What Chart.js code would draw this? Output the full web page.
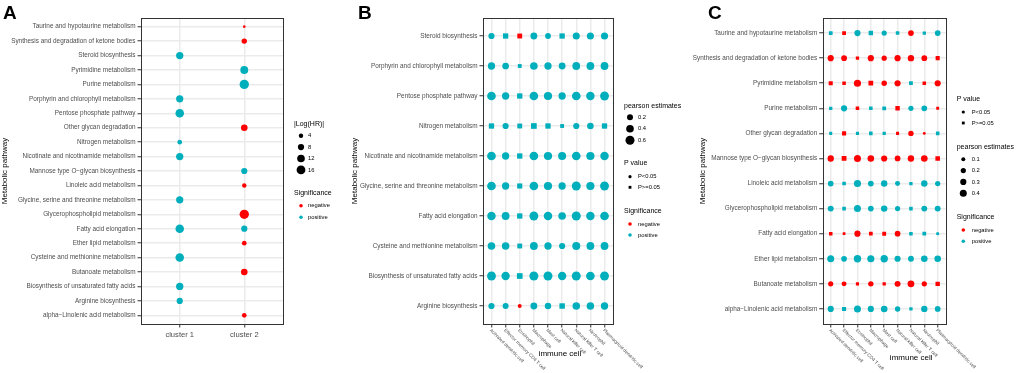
<!doctype html>
<html lang="en">
<head>
<meta charset="utf-8">
<title>Metabolic pathways, clusters and immune cells</title>
<script src="https://cdn.jsdelivr.net/npm/chart.js@4.4.1/dist/chart.umd.min.js"></script>
<style>
  body { margin: 0; background: #fff; }
  #figure { position: relative; width: 1017px; height: 373px; overflow: hidden; }
  #figure canvas { position: absolute; top: 0; }
</style>
</head>
<body>
<div id="figure">
  <canvas id="panelA" width="340" height="373" style="left:0px"></canvas>
  <canvas id="panelB" width="350" height="373" style="left:340px"></canvas>
  <canvas id="panelC" width="337" height="373" style="left:680px"></canvas>
</div>
<script>
// ---- data ----
// panel A: |log(HR)| per cluster, sign = direction (negative -> red)
const aPathways = ['Taurine and hypotaurine metabolism', 'Synthesis and degradation of ketone bodies', 'Steroid biosynthesis',
  'Pyrimidine metabolism', 'Purine metabolism', 'Porphyrin and chlorophyll metabolism', 'Pentose phosphate pathway',
  'Other glycan degradation', 'Nitrogen metabolism', 'Nicotinate and nicotinamide metabolism',
  'Mannose type O\u2212glycan biosynthesis', 'Linoleic acid metabolism', 'Glycine, serine and threonine metabolism',
  'Glycerophospholipid metabolism', 'Fatty acid elongation', 'Ether lipid metabolism', 'Cysteine and methionine metabolism',
  'Butanoate metabolism', 'Biosynthesis of unsaturated fatty acids', 'Arginine biosynthesis', 'alpha\u2212Linolenic acid metabolism'];
const aClusters = ['cluster 1', 'cluster 2'];
const aLogHR1 = [null, null, 11, null, null, 11, 15, null, 4.4, 11, null, null, 11, null, 15, null, 15, null, 11, 8, null];
const aLogHR2 = [-1.4, -6, null, 13, 18, null, null, -9, null, null, 8, -4, null, -18, 8, -4.5, null, -9, null, null, -4.5];
const aSizeBreaks = [4, 8, 12, 16];

const immuneCells = ['Activated dendritic cell', 'Effector memory CD4 T cell', 'Eosinophil', 'Macrophage', 'Mast cell',
  'Natural killer cell', 'Natural killer T cell', 'Neutrophil', 'Plasmacytoid dendritic cell'];

// panel B: pearson estimates (rows top -> bottom), pHigh 1 = P>=0.05 (square)
const bPathways = ['Steroid biosynthesis', 'Porphyrin and chlorophyll metabolism', 'Pentose phosphate pathway',
  'Nitrogen metabolism', 'Nicotinate and nicotinamide metabolism', 'Glycine, serine and threonine metabolism',
  'Fatty acid elongation', 'Cysteine and methionine metabolism', 'Biosynthesis of unsaturated fatty acids', 'Arginine biosynthesis'];
const bEstimates = [
  [0.22, 0.2, -0.15, 0.3, 0.18, 0.2, 0.33, 0.33, 0.33],
  [0.35, 0.28, 0.05, 0.4, 0.35, 0.3, 0.42, 0.42, 0.42],
  [0.55, 0.35, 0.2, 0.55, 0.48, 0.35, 0.55, 0.52, 0.58],
  [0.2, 0.22, 0.15, 0.25, 0.2, 0.05, 0.22, 0.27, 0.2],
  [0.55, 0.35, 0.2, 0.55, 0.48, 0.45, 0.55, 0.48, 0.52],
  [0.55, 0.35, 0.18, 0.55, 0.48, 0.35, 0.6, 0.48, 0.58],
  [0.52, 0.42, 0.2, 0.58, 0.52, 0.4, 0.6, 0.52, 0.55],
  [0.4, 0.38, 0.15, 0.42, 0.35, 0.22, 0.45, 0.42, 0.42],
  [0.58, 0.5, 0.25, 0.6, 0.6, 0.5, 0.6, 0.55, 0.58],
  [0.22, 0.2, -0.02, 0.3, 0.25, 0.22, 0.38, 0.38, 0.35]
];
const bPHigh = [
  [0, 1, 1, 0, 0, 1, 0, 0, 0],
  [0, 0, 1, 0, 0, 0, 0, 0, 0],
  [0, 0, 1, 0, 0, 0, 0, 0, 0],
  [1, 0, 1, 1, 1, 1, 0, 0, 1],
  [0, 0, 1, 0, 0, 0, 0, 0, 0],
  [0, 0, 1, 0, 0, 0, 0, 0, 0],
  [0, 0, 1, 0, 0, 0, 0, 0, 0],
  [0, 0, 1, 0, 0, 0, 0, 0, 0],
  [0, 0, 1, 0, 0, 0, 0, 0, 0],
  [0, 0, 0, 0, 0, 1, 0, 0, 0]
];
const bSizeBreaks = [0.2, 0.4, 0.6];

// panel C
const cPathways = ['Taurine and hypotaurine metabolism', 'Synthesis and degradation of ketone bodies', 'Pyrimidine metabolism',
  'Purine metabolism', 'Other glycan degradation', 'Mannose type O\u2212glycan biosynthesis', 'Linoleic acid metabolism',
  'Glycerophospholipid metabolism', 'Fatty acid elongation', 'Ether lipid metabolism', 'Butanoate metabolism',
  'alpha\u2212Linolenic acid metabolism'];
const cEstimates = [
  [0.12, -0.12, 0.3, 0.18, 0.2, 0.1, -0.25, 0.08, 0.25],
  [-0.3, -0.25, -0.08, -0.3, -0.2, -0.3, -0.32, -0.25, -0.15],
  [-0.15, -0.1, -0.42, -0.22, -0.22, -0.3, 0.12, -0.1, -0.3],
  [0.08, 0.3, -0.1, 0.1, 0.12, -0.18, 0.2, 0.25, -0.05],
  [0.06, -0.15, 0.07, 0.1, 0.08, -0.06, -0.22, -0.03, 0.1],
  [-0.32, -0.22, -0.4, -0.35, -0.3, -0.25, -0.33, -0.35, -0.2],
  [0.25, 0.1, 0.42, 0.25, 0.33, 0.18, 0.08, 0.33, 0.2],
  [0.28, 0.1, 0.4, 0.25, 0.33, 0.2, 0.1, 0.27, 0.27],
  [-0.1, -0.04, -0.3, -0.12, -0.13, -0.25, 0.1, 0.12, 0.05],
  [0.4, 0.25, 0.45, 0.42, 0.45, 0.3, 0.27, 0.35, 0.35],
  [-0.2, -0.18, -0.07, -0.22, -0.08, -0.28, -0.38, -0.2, -0.18],
  [0.3, 0.15, 0.4, 0.3, 0.35, 0.22, 0.08, 0.32, 0.25]
];
const cPHigh = [
  [1, 1, 0, 1, 0, 1, 0, 1, 0],
  [0, 0, 1, 0, 0, 0, 0, 0, 1],
  [1, 1, 0, 1, 0, 0, 1, 1, 0],
  [1, 0, 1, 1, 1, 1, 0, 0, 1],
  [1, 1, 1, 1, 1, 1, 0, 0, 1],
  [0, 1, 0, 0, 0, 0, 0, 0, 1],
  [0, 1, 0, 0, 0, 0, 1, 0, 0],
  [0, 1, 0, 0, 0, 0, 1, 0, 0],
  [1, 1, 0, 1, 1, 0, 1, 1, 0],
  [0, 0, 0, 0, 0, 0, 0, 0, 0],
  [0, 0, 1, 0, 1, 0, 0, 0, 1],
  [0, 1, 0, 0, 0, 0, 1, 0, 0]
];
const cSizeBreaks = [0.1, 0.2, 0.3, 0.4];

// ---- style ----
const FONT = '"Liberation Sans", Arial, Helvetica, sans-serif';
const RED = '#FF0000';
const TEAL = '#00AFBB';
const GRID = '#EBEBEB';
const DARK = '#333333';

const radiusA = v => 1.1 * Math.sqrt(Math.abs(v));
const radiusB = v => Math.sqrt(3.4 + 28 * Math.abs(v));
const radiusC = v => Math.sqrt(1.25 + 27.5 * Math.abs(v));

function pointsA() {
  const pts = [];
  const n = aPathways.length;
  [aLogHR1, aLogHR2].forEach((col, c) => {
    col.forEach((v, i) => {
      if (v === null) return;
      pts.push({x: c + 1, y: n - i, r: radiusA(v), style: 'circle', color: v < 0 ? RED : TEAL});
    });
  });
  return pts;
}

function pointsGrid(est, pHigh, radius) {
  const pts = [];
  const n = est.length;
  est.forEach((row, i) => row.forEach((v, j) => {
    const sq = pHigh[i][j] === 1;
    pts.push({x: j + 1, y: n - i, r: radius(v) * (sq ? 1.25 : 1), style: sq ? 'rect' : 'circle', color: v < 0 ? RED : TEAL});
  }));
  return pts;
}

function drawLegend(ctx, lg) {
  ctx.textAlign = 'left';
  ctx.textBaseline = 'middle';
  lg.groups.forEach(g => {
    ctx.fillStyle = '#000';
    ctx.font = '7px ' + FONT;
    ctx.fillText(g.title, lg.x, g.y);
    g.keys.forEach((k, i) => {
      const y = g.ky + i * g.step;
      ctx.fillStyle = k.color || '#000';
      ctx.beginPath();
      if (k.shape === 'rect') {
        const s = k.r * 1.25 * Math.SQRT1_2;
        ctx.rect(lg.keyX - s, y - s, 2 * s, 2 * s);
      } else {
        ctx.arc(lg.keyX, y, k.r, 0, Math.PI * 2);
      }
      ctx.fill();
      ctx.fillStyle = '#000';
      ctx.font = '5.8px ' + FONT;
      ctx.fillText(k.label, lg.textX, y);
    });
  });
}

// frame, panel letter, slanted x labels, x title and ggplot-like legends
const ggPlugin = {
  id: 'gg',
  afterDraw(chart, args, o) {
    const ctx = chart.ctx, a = chart.chartArea;
    ctx.save();
    ctx.strokeStyle = DARK;
    ctx.lineWidth = 1;
    ctx.strokeRect(Math.round(a.left) + 0.5, Math.round(a.top) + 0.5, Math.round(a.right - a.left), Math.round(a.bottom - a.top));

    ctx.fillStyle = '#000';
    ctx.font = 'bold 19px ' + FONT;
    ctx.textBaseline = 'alphabetic';
    ctx.textAlign = 'left';
    ctx.fillText(o.tag, o.tagX, 19);

    if (o.slant) {
      const xs = chart.scales.x;
      ctx.fillStyle = '#4D4D4D';
      ctx.font = '4.6px ' + FONT;
      ctx.textBaseline = 'middle';
      o.slant.forEach((t, i) => {
        ctx.save();
        ctx.translate(xs.getPixelForValue(i + 1) - 1, a.bottom + 5.5);
        ctx.rotate(Math.PI / 4);
        ctx.fillText(t, 0, 0);
        ctx.restore();
      });
    }
    if (o.xTitle) {
      ctx.fillStyle = '#000';
      ctx.font = '8px ' + FONT;
      ctx.textAlign = 'center';
      ctx.textBaseline = 'middle';
      ctx.fillText(o.xTitle.text, (a.left + a.right) / 2 + o.xTitle.dx, o.xTitle.y);
    }
    drawLegend(ctx, o.legend);
    ctx.restore();
  }
};

function drawPanel(id, cfg) {
  const canvas = document.getElementById(id);
  const W = canvas.width, H = canvas.height;
  const nR = cfg.rows.length, nC = cfg.cols.length;
  const pts = cfg.points;
  const grid = {color: GRID, lineWidth: 1.5, drawTicks: true, tickLength: 3.5, tickColor: DARK, tickWidth: 1};
  return new Chart(canvas, {
    type: 'scatter',
    data: {
      datasets: [{
        data: pts.map(p => ({x: p.x, y: p.y})),
        pointRadius: pts.map(p => p.r),
        pointHoverRadius: pts.map(p => p.r),
        pointStyle: pts.map(p => p.style),
        pointBackgroundColor: pts.map(p => p.color),
        pointBorderWidth: 0,
        pointBorderColor: 'rgba(0,0,0,0)'
      }]
    },
    options: {
      responsive: false,
      animation: false,
      events: [],
      layout: {padding: {left: 0, right: W - cfg.plotRight, top: 18, bottom: 0}},
      plugins: {
        legend: {display: false},
        tooltip: {enabled: false},
        gg: cfg.gg
      },
      scales: {
        x: {
          type: 'linear', position: 'bottom', min: 0.4, max: nC + 0.6,
          afterBuildTicks: s => { s.ticks = cfg.cols.map((c, i) => ({value: i + 1})); },
          afterFit: s => { s.height = H - 324; s.paddingLeft = 0; s.paddingRight = 0; },
          ticks: {
            display: cfg.flatX, autoSkip: false, maxRotation: 0, minRotation: 0, padding: 2.5,
            color: '#4D4D4D', font: {family: FONT, size: 7.6},
            callback: v => cfg.cols[v - 1]
          },
          grid: grid,
          border: {display: false}
        },
        y: {
          type: 'linear', position: 'left', min: 0.4, max: nR + 0.6,
          afterBuildTicks: s => { s.ticks = cfg.rows.map((r, i) => ({value: i + 1})); },
          afterFit: s => { s.width = cfg.plotLeft; s.paddingTop = 0; s.paddingBottom = 0; },
          ticks: {
            autoSkip: false, padding: 2, color: '#4D4D4D', font: {family: FONT, size: 6.4},
            callback: v => cfg.rows[nR - v]
          },
          grid: grid,
          border: {display: false},
          title: {display: true, text: 'Metabolic pathway', color: '#000', font: {family: FONT, size: 8},
            padding: {top: cfg.titleGap, bottom: 0}}
        }
      }
    },
    plugins: [ggPlugin]
  });
}

const sigKeys = [{label: 'negative', r: 1.8, color: RED}, {label: 'positive', r: 1.8, color: TEAL}];
const pKeys = [{label: 'P<0.05', r: 1.6}, {label: 'P>=0.05', r: 1.6, shape: 'rect'}];

drawPanel('panelA', {
  rows: aPathways, cols: aClusters, points: pointsA(), flatX: true,
  titleGap: 0, plotLeft: 141, plotRight: 283,
  gg: {
    tag: 'A', tagX: 3,
    legend: {x: 294, keyX: 301, textX: 308, groups: [
      {title: '|Log(HR)|', y: 124, ky: 135.7, step: 11.4, keys: aSizeBreaks.map(v => ({label: String(v), r: radiusA(v)}))},
      {title: 'Significance', y: 193.3, ky: 205.7, step: 11.6, keys: sigKeys}
    ]}
  }
});

drawPanel('panelB', {
  rows: bPathways, cols: immuneCells, points: pointsGrid(bEstimates, bPHigh, radiusB), flatX: false,
  titleGap: 9.5, plotLeft: 143, plotRight: 273,
  gg: {
    tag: 'B', tagX: 18, slant: immuneCells,
    xTitle: {text: 'immune cell', dx: 12, y: 353.3},
    legend: {x: 284, keyX: 290, textX: 298, groups: [
      {title: 'pearson estimates', y: 106, ky: 117.3, step: 11.5, keys: bSizeBreaks.map(v => ({label: String(v), r: radiusB(v)}))},
      {title: 'P value', y: 163.3, ky: 176.7, step: 10.6, keys: pKeys},
      {title: 'Significance', y: 211.3, ky: 224, step: 11, keys: sigKeys}
    ]}
  }
});

drawPanel('panelC', {
  rows: cPathways, cols: immuneCells, points: pointsGrid(cEstimates, cPHigh, radiusC), flatX: false,
  titleGap: 18.2, plotLeft: 142.7, plotRight: 265.7,
  gg: {
    tag: 'C', tagX: 28, slant: immuneCells,
    xTitle: {text: 'immune cell', dx: 27, y: 357.5},
    legend: {x: 276.7, keyX: 283.3, textX: 291.7, groups: [
      {title: 'P value', y: 99.3, ky: 112, step: 11, keys: pKeys},
      {title: 'pearson estimates', y: 146.7, ky: 159.3, step: 11.3, keys: cSizeBreaks.map(v => ({label: String(v), r: radiusC(v)}))},
      {title: 'Significance', y: 216.7, ky: 230, step: 11.3, keys: sigKeys}
    ]}
  }
});
</script>
</body>
</html>
